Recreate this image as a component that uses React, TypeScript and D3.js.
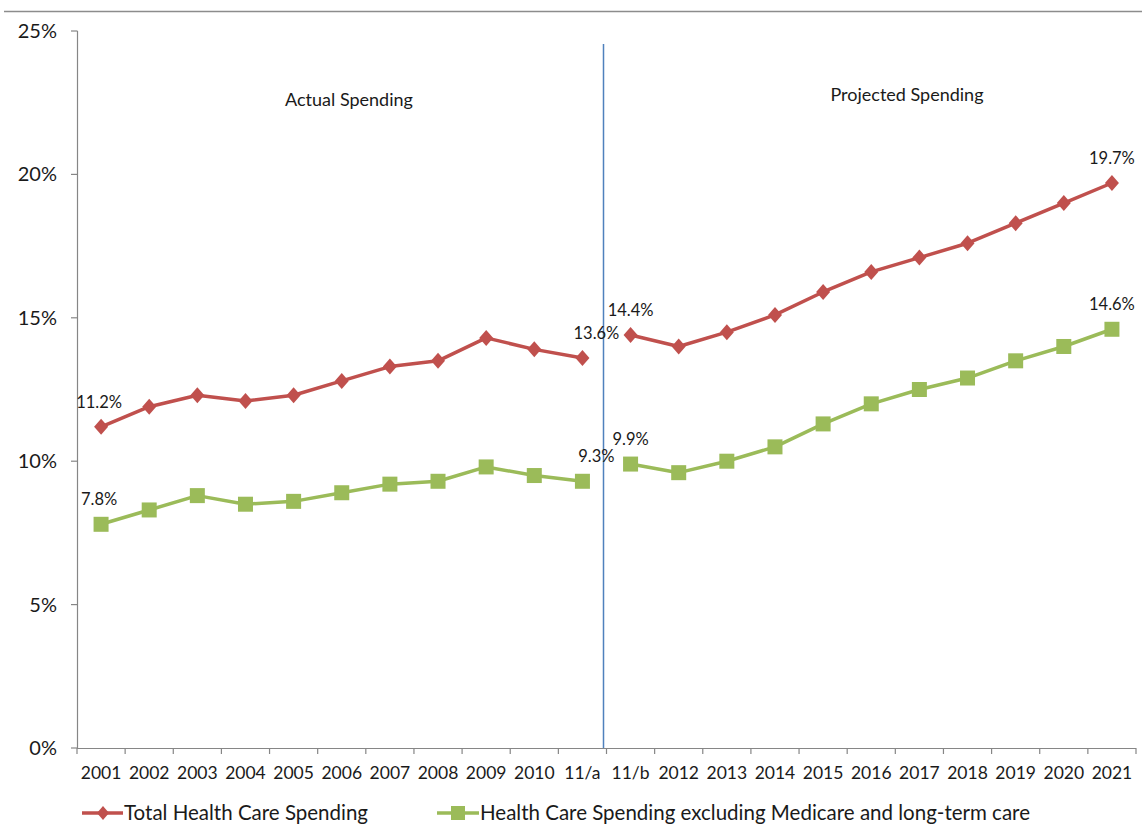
import * as d3 from "d3";

const categories = [
  "2001", "2002", "2003", "2004", "2005", "2006", "2007", "2008", "2009", "2010", "11/a",
  "11/b", "2012", "2013", "2014", "2015", "2016", "2017", "2018", "2019", "2020", "2021",
];

// % of GDP; the first 11 points are actual, the rest projected
const totalSpending = [
  11.2, 11.9, 12.3, 12.1, 12.3, 12.8, 13.3, 13.5, 14.3, 13.9, 13.6,
  14.4, 14.0, 14.5, 15.1, 15.9, 16.6, 17.1, 17.6, 18.3, 19.0, 19.7,
];
const excludingMedicare = [
  7.8, 8.3, 8.8, 8.5, 8.6, 8.9, 9.2, 9.3, 9.8, 9.5, 9.3,
  9.9, 9.6, 10.0, 10.5, 11.3, 12.0, 12.5, 12.9, 13.5, 14.0, 14.6,
];
const labelled = ["2001", "11/a", "11/b", "2021"];
const yTicks = [0, 5, 10, 15, 20, 25];

const RED = "#C0504D";
const GREEN = "#9BBB59";
const FONT = "Lato, 'Open Sans', sans-serif";
const INK = "#1a1a1a";

const App = () => {
  const width = 1142;
  const height = 825;

  const x = d3.scaleBand().domain(categories).range([77, 1136]).padding(0);
  const y = d3.scaleLinear().domain([0, 25]).range([748, 31]);
  const cx = (c: string) => (x(c) as number) + x.bandwidth() / 2;

  // split each series into actual / projected pieces
  const segs = (vals: number[]) => [vals.slice(0, 11), vals.slice(11)];
  const seg = (vals: number[], off: number) =>
    d3
      .line<number>()
      .x((_, i) => cx(categories[i + off]))
      .y((d) => y(d))(vals) as string;

  const divider = (x(categories[11]) as number) - 3;

  const diamond = (px: number, py: number, r = 8) =>
    `M${px},${py - r}L${px + r - 1},${py}L${px},${py + r}L${px - r + 1},${py}Z`;

  const series = [
    { name: "Total Health Care Spending", vals: totalSpending, color: RED, shape: "diamond" },
    { name: "Health Care Spending excluding Medicare and long-term care", vals: excludingMedicare, color: GREEN, shape: "square" },
  ];

  return (
    <svg width={width} height={height} style={{ display: "block", position: "absolute", left: 0, top: 0, background: "#fff" }}>
      <line x1={4} x2={width} y1={11.5} y2={11.5} stroke="#8c8c8c" strokeWidth={1.5} />

      {/* y axis */}
      <line x1={77.5} x2={77.5} y1={y(25)} y2={y(0)} stroke="#868686" strokeWidth={1.2} />
      {yTicks.map((t) => (
        <g key={t}>
          <line x1={71} x2={77.5} y1={y(t)} y2={y(t)} stroke="#868686" strokeWidth={1.2} />
          <text x={57} y={y(t)} dy="0.35em" textAnchor="end" fontFamily={FONT} fontSize={20} fill={INK}>
            {t}%
          </text>
        </g>
      ))}

      {/* x axis */}
      <line x1={77} x2={1136} y1={y(0) + 0.5} y2={y(0) + 0.5} stroke="#868686" strokeWidth={1.2} />
      {[...categories.map((c) => x(c) as number), 1136].map((bx, i) => (
        <line key={i} x1={bx} x2={bx} y1={y(0)} y2={y(0) + 6} stroke="#868686" strokeWidth={1.2} />
      ))}
      {categories.map((c) => (
        <text key={c} x={cx(c)} y={779} textAnchor="middle" fontFamily={FONT} fontSize={17.5} fill={INK}>
          {c}
        </text>
      ))}

      {/* actual / projected divider */}
      <line x1={divider} x2={divider} y1={44} y2={y(0)} stroke="#4F81BD" strokeWidth={1.5} />
      <text x={349} y={106} textAnchor="middle" fontFamily={FONT} fontSize={18} fill={INK}>Actual Spending</text>
      <text x={907} y={101} textAnchor="middle" fontFamily={FONT} fontSize={18} fill={INK}>Projected Spending</text>

      {series.map((s) => (
        <g key={s.name}>
          {segs(s.vals).map((v, k) => (
            <path key={k} d={seg(v, k * 11)} fill="none" stroke={s.color} strokeWidth={3.5} strokeLinejoin="round" />
          ))}
          {s.vals.map((v, i) =>
            s.shape === "diamond" ? (
              <path key={i} d={diamond(cx(categories[i]), y(v))} fill={s.color} />
            ) : (
              <rect key={i} x={cx(categories[i]) - 7.5} y={y(v) - 7.5} width={15} height={15} fill={s.color} />
            )
          )}
          {s.vals.map((v, i) =>
            labelled.includes(categories[i]) ? (
              <text
                key={"l" + i}
                x={cx(categories[i]) + (categories[i] === "11/a" ? 14 : 0) + (categories[i] === "2001" ? -2 : 0)}
                y={y(v) - 19}
                textAnchor="middle"
                fontFamily={FONT}
                fontSize={16.5}
                fill={INK}
              >
                {v.toFixed(1)}%
              </text>
            ) : null
          )}
        </g>
      ))}

      {/* legend */}
      <g>
        <line x1={82} x2={123} y1={813} y2={813} stroke={RED} strokeWidth={3.5} />
        <path d={diamond(103, 813, 7)} fill={RED} />
        <text x={124} y={813} dy="0.35em" fontFamily={FONT} fontSize={20.5} fill={INK}>{series[0].name}</text>
        <line x1={437} x2={479} y1={813} y2={813} stroke={GREEN} strokeWidth={3.5} />
        <rect x={451} y={806} width={14} height={14} fill={GREEN} />
        <text x={480} y={813} dy="0.35em" fontFamily={FONT} fontSize={20.5} fill={INK}>{series[1].name}</text>
      </g>
    </svg>
  );
};

export default App;
